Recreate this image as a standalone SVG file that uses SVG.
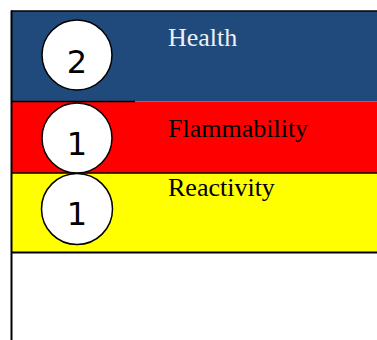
<svg xmlns="http://www.w3.org/2000/svg" width="377" height="340" viewBox="0 0 377 340">
<style>
.circ{fill:#fff;stroke:#000;stroke-width:1.5}
.num{font-family:"DejaVu Sans",sans-serif;font-size:32px;text-anchor:middle;fill:#000}
.lbl{font-family:"Liberation Serif",serif;font-size:26px}
.ln{stroke:#000;fill:none}
</style>
<rect width="377" height="340" fill="#fff"/>
<g id="health">
<rect x="11" y="11" width="366" height="90.5" fill="#214A7C"/>
<text class="lbl" x="168" y="46" fill="#EEF0F4">Health</text>
</g>
<g id="flammability">
<rect x="11" y="101.5" width="366" height="71.5" fill="#FF0000"/>
<text class="lbl" x="168" y="137" fill="#000">Flammability</text>
</g>
<g id="reactivity">
<rect x="11" y="173" width="366" height="79.5" fill="#FFFF00"/>
<text class="lbl" x="168" y="196" fill="#000">Reactivity</text>
</g>
<g id="connectors">
<line class="ln" x1="11" y1="11" x2="377" y2="11" stroke-width="1.5"/>
<line class="ln" x1="11.5" y1="10.5" x2="11.5" y2="340" stroke-width="2"/>
<line class="ln" x1="11" y1="101.5" x2="135" y2="101.5" stroke-width="1.5"/>
<line class="ln" x1="11" y1="173" x2="377" y2="173" stroke-width="1.5"/>
<line class="ln" x1="11" y1="252.5" x2="377" y2="252.5" stroke-width="2"/>
</g>
<g id="health-rating">
<circle class="circ" cx="77" cy="55" r="35"/>
<text class="num" x="77" y="73">2</text>
</g>
<g id="flammability-rating">
<circle class="circ" cx="77" cy="138" r="35"/>
<text class="num" x="77" y="155">1</text>
</g>
<g id="reactivity-rating">
<circle class="circ" cx="77" cy="209" r="35.5"/>
<text class="num" x="77" y="225">1</text>
</g>
</svg>
